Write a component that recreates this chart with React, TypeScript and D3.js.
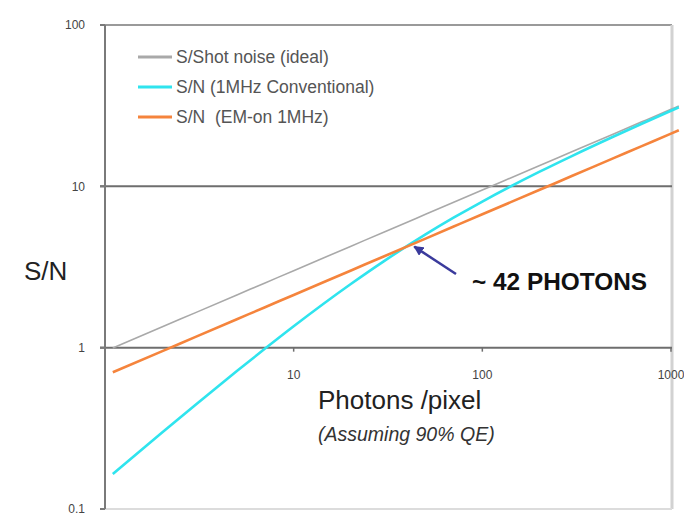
import React from "react";
import * as d3 from "d3";

const photons = [1.1, 2, 3, 5, 7, 10, 20, 30, 50, 70, 100, 200, 300, 500, 700, 1000, 1100];
const shotNoise = [0.995, 1.342, 1.643, 2.121, 2.51, 3.0, 4.243, 5.196, 6.708, 7.937, 9.487, 13.42, 16.43, 21.21, 25.1, 30.0, 31.46];
const conventional = [0.165, 0.297, 0.44, 0.716, 0.98, 1.357, 2.472, 3.429, 5.031, 6.364, 8.05, 12.28, 15.46, 20.43, 24.43, 29.43, 30.92];
const emOn = [0.704, 0.949, 1.162, 1.5, 1.775, 2.121, 3.0, 3.674, 4.743, 5.612, 6.708, 9.487, 11.62, 15.0, 17.75, 21.21, 22.25];

const seriesNames = ["S/Shot noise (ideal)", "S/N (1MHz Conventional)", "S/N\u00a0\u00a0(EM-on 1MHz)"];
const seriesColors = ["#a9a9a9", "#2fe4ee", "#f5843c"];
const seriesWidths = [1.6, 2.6, 2.6];

const xTicks = [10, 100, 1000];
const xTickLabels = ["10", "100", "1000"];
const yTicks = [100, 10, 1, 0.1];
const yTickLabels = ["100", "10", "1", "0.1"];

const crossing = { x: 42, y: 4.35 };

export default function App() {
  const x = d3.scaleLog().domain([1, 1000]).range([105, 671]);
  const y = d3.scaleLog().domain([0.1, 100]).range([509, 25]);
  const allSeries = [shotNoise, conventional, emOn];
  const line = d3
    .line<[number, number]>()
    .x((d) => x(d[0]))
    .y((d) => y(d[1]))
    .curve(d3.curveMonotoneX);

  const left = x(1);
  const right = 672;
  const top = y(100);
  const bottom = y(0.1);
  const font = "'Liberation Sans', Arial, sans-serif";

  const ax = x(crossing.x) + 3;
  const ay = y(crossing.y) + 2;

  return (
    <svg
      width={684}
      height={515}
      style={{ position: "absolute", left: 0, top: 0, background: "#fff" }}
      fontFamily={font}
    >
      <defs>
        <marker id="ah" viewBox="0 0 10 10" refX="9" refY="5" markerWidth="4" markerHeight="4" orient="auto">
          <path d="M0,0 L10,5 L0,10 z" fill="#3a3a9c" />
        </marker>
      </defs>
      {/* frame */}
      <line x1={100} x2={right} y1={top} y2={top} stroke="#9a9a9a" strokeWidth={2} />
      <line x1={right} x2={right} y1={top} y2={bottom} stroke="#d2d2d2" strokeWidth={3} />
      <line x1={left} x2={right} y1={bottom} y2={bottom} stroke="#dcdcdc" strokeWidth={2} />
      <line x1={100} x2={right} y1={y(10)} y2={y(10)} stroke="#6e6e6e" strokeWidth={2} />
      <line x1={100} x2={right} y1={y(1)} y2={y(1)} stroke="#6e6e6e" strokeWidth={2} />
      <line x1={left} x2={left} y1={top} y2={bottom} stroke="#7a7a7a" strokeWidth={2} />
      {yTicks.map((t, i) => (
        <g key={"y" + i}>
          <line x1={100} x2={left} y1={y(t)} y2={y(t)} stroke="#7a7a7a" strokeWidth={2} />
          <text x={85} y={y(t)} dy="0.35em" textAnchor="end" fontSize={12} fill="#444">
            {yTickLabels[i]}
          </text>
        </g>
      ))}
      {xTicks.map((t, i) => (
        <g key={"x" + i}>
          <line x1={x(t)} x2={x(t)} y1={y(1)} y2={y(1) + 4} stroke="#6e6e6e" strokeWidth={1.5} />
          <text x={x(t)} y={375} dy="0.35em" textAnchor="middle" fontSize={12} fill="#444">
            {xTickLabels[i]}
          </text>
        </g>
      ))}
      {/* series */}
      {allSeries.map((s, i) => (
        <path
          key={"s" + i}
          d={line(photons.map((p, j) => [p, s[j]] as [number, number])) || ""}
          fill="none"
          stroke={seriesColors[i]}
          strokeWidth={seriesWidths[i]}
        />
      ))}
      {/* legend */}
      {seriesNames.map((n, i) => (
        <g key={"l" + i}>
          <line x1={138} x2={172} y1={57 + i * 30} y2={57 + i * 30} stroke={seriesColors[i]} strokeWidth={3} />
          <text x={176} y={57 + i * 30} dy="0.35em" fontSize={17.5} fill="#555">
            {n}
          </text>
        </g>
      ))}
      {/* axis titles */}
      <text x={24} y={280} fontSize={26} fill="#222">S/N</text>
      <text x={318} y={409} fontSize={26} fill="#222">Photons /pixel</text>
      <text x={318} y={441} fontSize={19.5} fontStyle="italic" fill="#333">(Assuming 90% QE)</text>
      {/* annotation */}
      <line x1={456} y1={274} x2={ax} y2={ay} stroke="#3a3a9c" strokeWidth={2.5} markerEnd="url(#ah)" />
      <text x={472} y={290} fontSize={24} fontWeight="bold" fill="#111" textLength={175} lengthAdjust="spacingAndGlyphs">
        ~ 42 PHOTONS
      </text>
    </svg>
  );
}
